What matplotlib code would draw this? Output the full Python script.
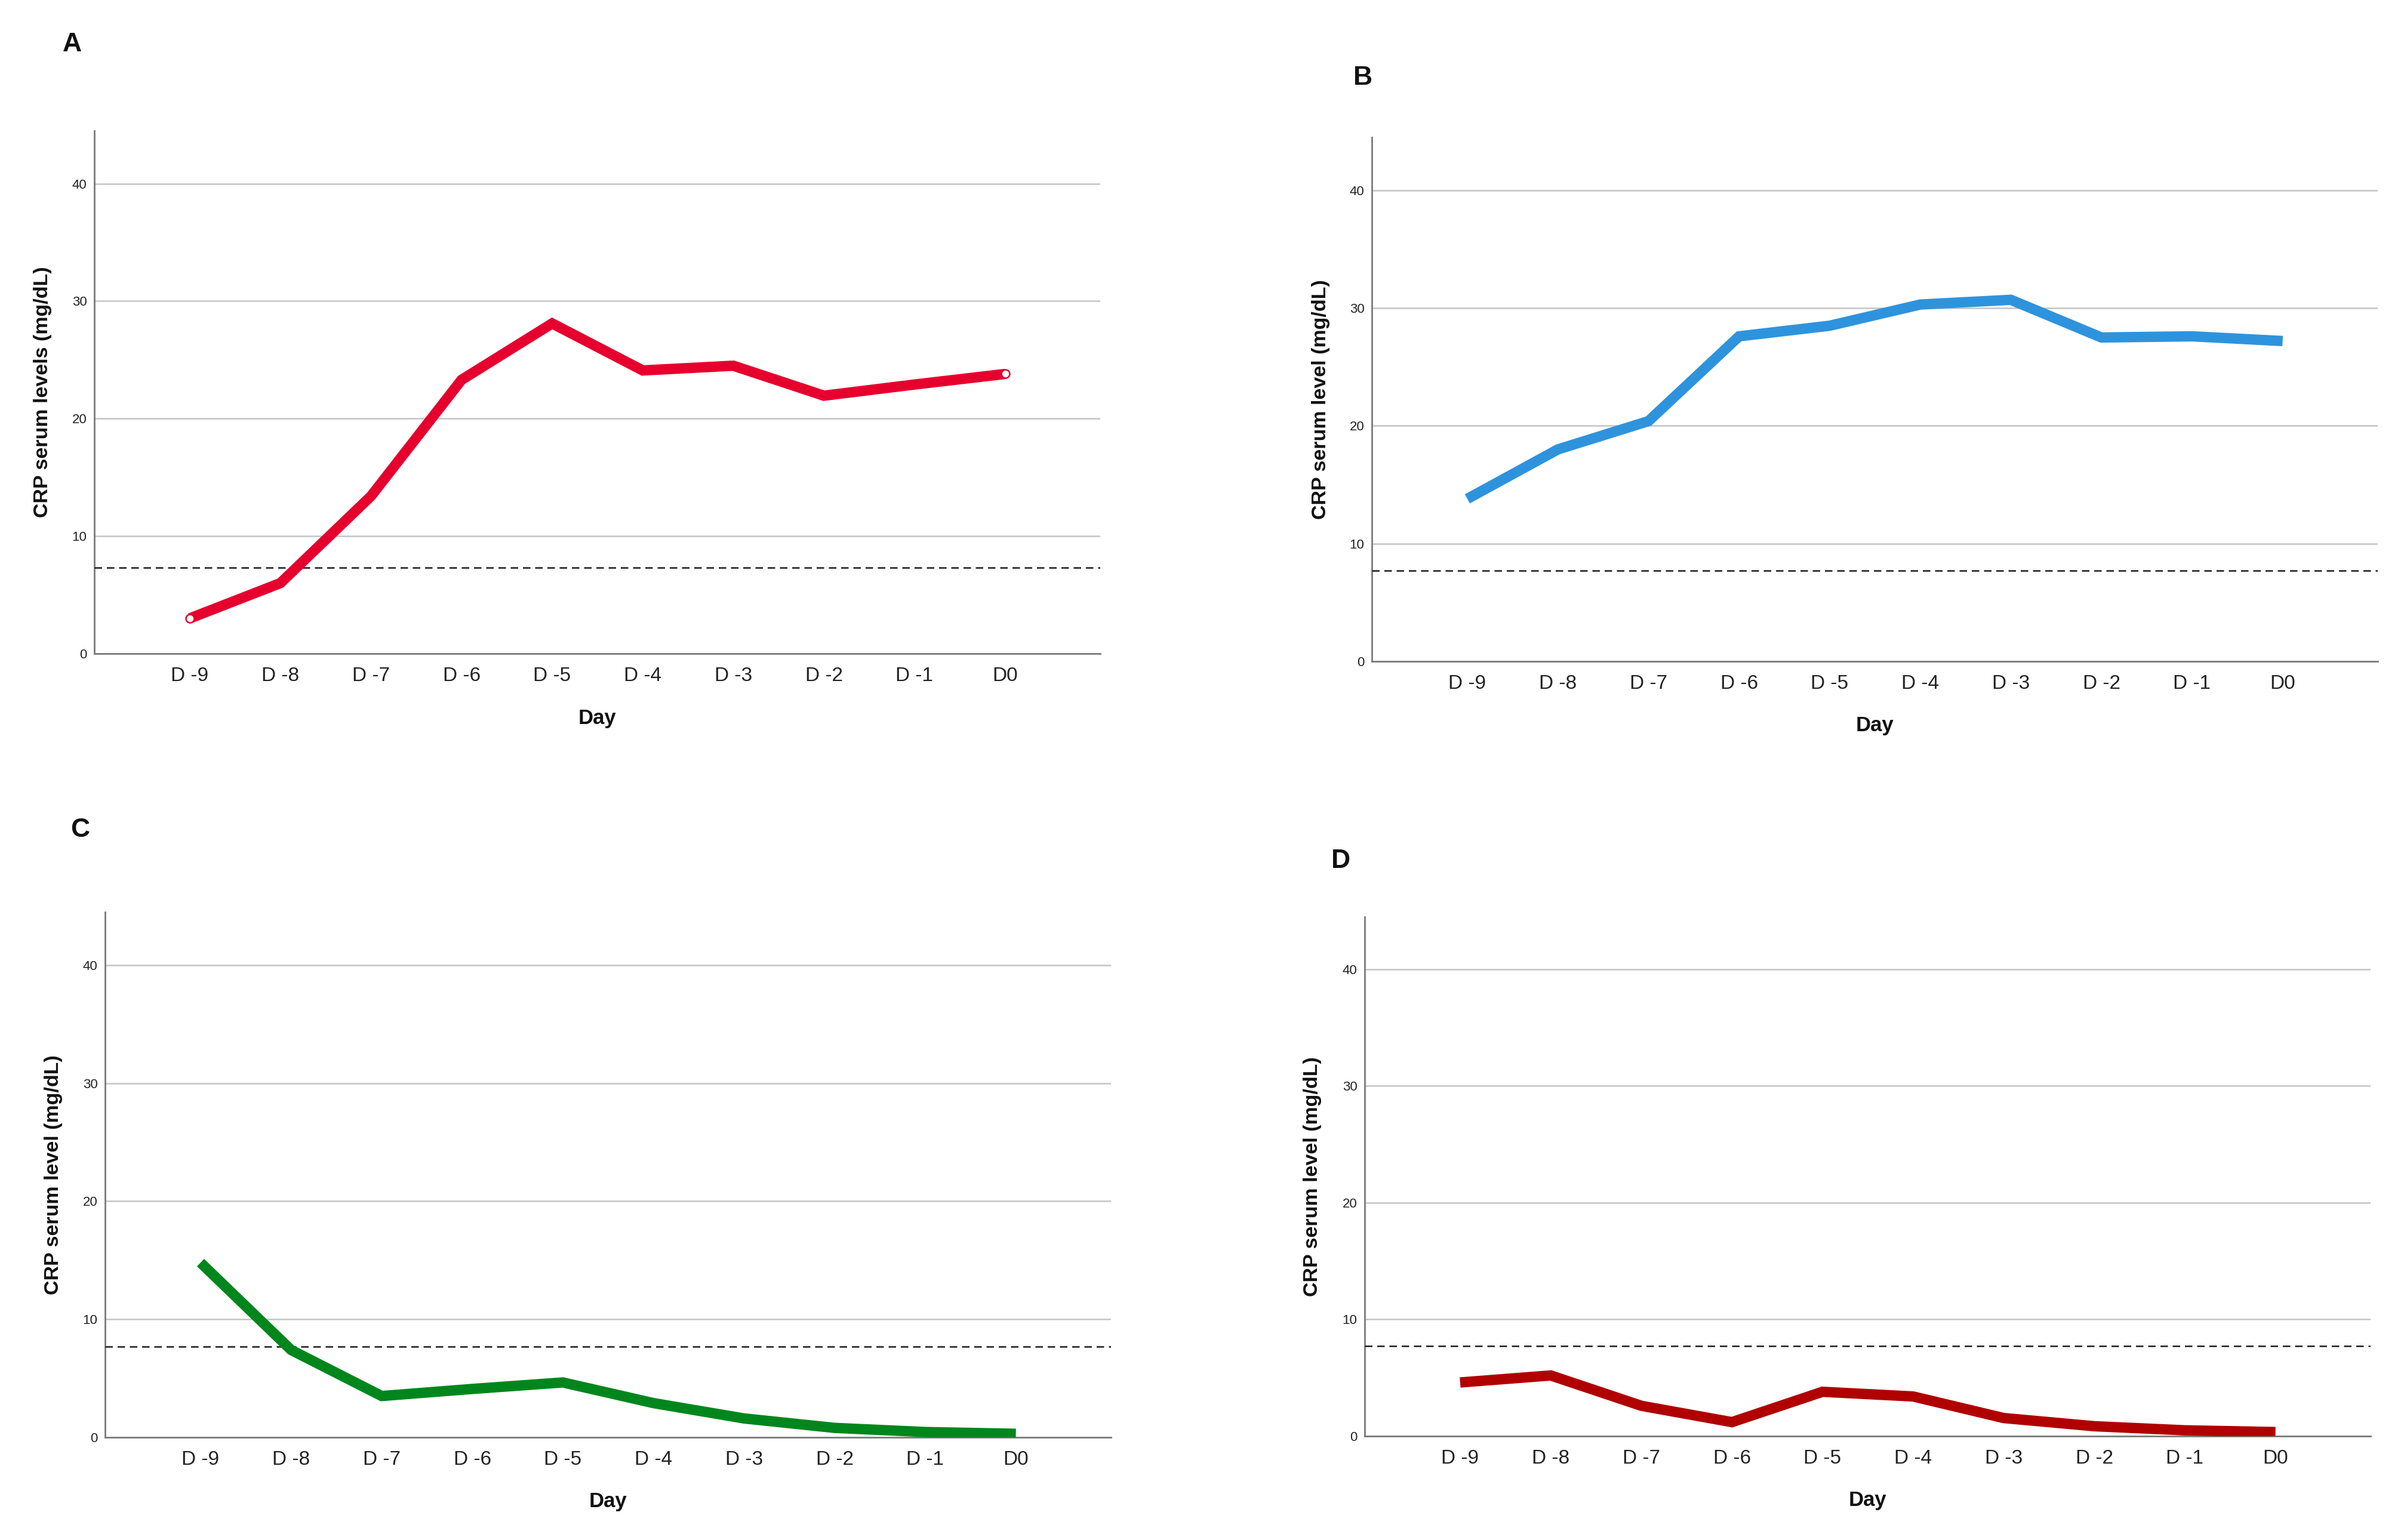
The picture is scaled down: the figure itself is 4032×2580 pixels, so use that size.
import matplotlib
matplotlib.use("Agg")
import matplotlib.pyplot as plt
import numpy as np

plt.rcParams['font.family'] = ['Liberation Sans', 'DejaVu Sans']

days = ["D -9", "D -8", "D -7", "D -6", "D -5", "D -4", "D -3", "D -2", "D -1", "D0"]
yticks = [0, 10, 20, 30, 40]

crp_a = [3.0, 6.0, 13.4, 23.3, 28.1, 24.1, 24.5, 21.95, 22.9, 23.8]
crp_b = [13.8, 18.0, 20.4, 27.6, 28.5, 30.3, 30.7, 27.5, 27.6, 27.2]
crp_c = [14.8, 7.4, 3.5, 4.1, 4.65, 2.9, 1.6, 0.8, 0.45, 0.3]
crp_d = [4.6, 5.2, 2.6, 1.2, 3.8, 3.4, 1.55, 0.85, 0.5, 0.35]

thresholds = [7.3, 7.7, 7.7, 7.7]
panel_letters = ["A", "B", "C", "D"]
ylabels = ["CRP serum levels (mg/dL)", "CRP serum level (mg/dL)",
           "CRP serum level (mg/dL)", "CRP serum level (mg/dL)"]
colors = ["#E6002E", "#2E93DD", "#00861C", "#B00000"]
series = [crp_a, crp_b, crp_c, crp_d]

W, H = 4032, 2580
fig = plt.figure(figsize=(W / 100, H / 100), dpi=100)

# axes boxes in pixels: left, top, width, height
boxes = [(158, 219, 1685, 876), (2298, 230, 1685, 878),
         (176, 1528, 1685, 880), (2286, 1536, 1685, 870)]
letter_pos = [(121, 75), (2283, 131), (134, 1390), (2246, 1443)]
ylabel_x = [72, 2212, 90, 2199]

for i, (box, vals) in enumerate(zip(boxes, series)):
    l, t, w, h = box
    ax = fig.add_axes([l / W, 1 - (t + h) / H, w / W, h / H])
    x = np.arange(len(days))
    ax.plot(x, vals, color=colors[i], lw=12.5, solid_capstyle='butt',
            solid_joinstyle='miter', zorder=4)
    if i == 0:
        ax.plot([x[0], x[-1]], [vals[0], vals[-1]], ls='none', marker='o',
                ms=10, mfc='white', mec=colors[i], mew=1.8, zorder=5)
    ax.axhline(thresholds[i], color='#1A1A1A', lw=1.8, ls=(0, (5.0, 3.2)), zorder=3)
    ax.set_xlim(-1.054, 10.05)
    ax.set_ylim(0, 44.5)
    ax.set_xticks(x)
    ax.set_xticklabels(days, fontsize=24, color='#222222')
    ax.set_yticks(yticks)
    ax.set_yticklabels([str(v) for v in yticks], fontsize=16, color='#222222')
    ax.tick_params(axis='x', length=0, pad=16)
    ax.tick_params(axis='y', length=0, pad=9)
    ax.yaxis.grid(True, color='#C4C4C4', lw=1.8, zorder=1)
    ax.set_axisbelow(True)
    for s in ['top', 'right']:
        ax.spines[s].set_visible(False)
    for s in ['left', 'bottom']:
        ax.spines[s].set_color('#7A7A7A')
        ax.spines[s].set_linewidth(2)
    ax.set_ylabel(ylabels[i], fontsize=24.5, fontweight='bold', color='#111111',
                  va='center')
    ax.yaxis.set_label_coords(-(l - ylabel_x[i]) / w, 0.5)
    ax.set_xlabel("Day", fontsize=25, fontweight='bold', color='#111111', va='center')
    ax.xaxis.set_label_coords(0.5, -108 / h)
    lx, ly = letter_pos[i]
    fig.text(lx / W, 1 - ly / H, panel_letters[i], fontsize=32, fontweight='bold',
             ha='center', va='center', color='#111111')

fig.savefig("out.png", dpi=100, facecolor='white')
